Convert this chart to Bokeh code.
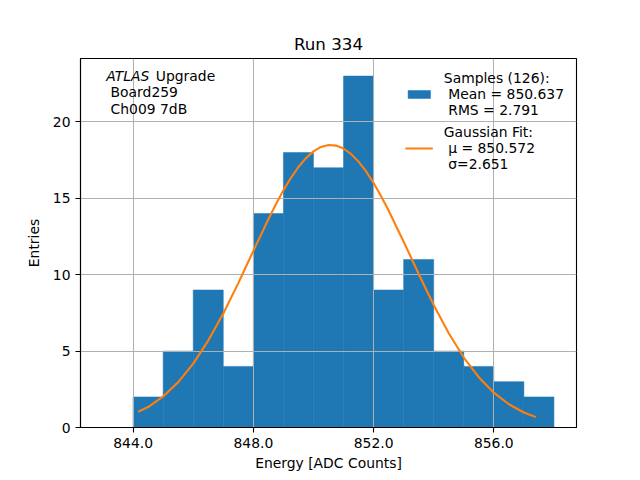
from bokeh.plotting import figure
from bokeh.models import (Range1d, FixedTicker, PrintfTickFormatter, Label,
                          Legend, LegendItem, ColumnDataSource)
from bokeh.embed import file_html
from bokeh.resources import INLINE

# ---- data ----
bin_edges = [843, 844, 845, 846, 847, 848, 849, 850, 851, 852, 853, 854, 855, 856, 857, 858]
counts = [0, 2, 5, 9, 4, 14, 18, 17, 23, 9, 11, 5, 4, 3, 2]

gauss_x = [844.17, 844.5, 845.0, 845.5, 846.0, 846.5, 847.0, 847.5, 847.75, 848.0,
           848.5, 848.75, 849.0, 849.25, 849.5, 849.75, 850.0, 850.25, 850.5, 850.75,
           851.0, 851.25, 851.5, 851.75, 852.0, 852.25, 852.5, 853.0, 853.25, 853.5,
           854.0, 854.5, 855.0, 855.5, 856.0, 856.5, 857.0, 857.4]
gauss_y = [1.03, 1.34, 2.03, 2.97, 4.18, 5.69, 7.46, 9.45, 10.50, 11.56,
           13.63, 14.61, 15.52, 16.34, 17.05, 17.63, 18.07, 18.36, 18.49, 18.45,
           18.26, 17.90, 17.40, 16.76, 16.00, 15.14, 14.20, 12.16, 11.11, 10.05,
           8.02, 6.17, 4.58, 3.29, 2.28, 1.52, 0.98, 0.68]

x_ticks = [844, 848, 852, 856]
y_ticks = [0, 5, 10, 15, 20]

title_text = "Run 334"
x_label = "Energy [ADC Counts]"
y_label = "Entries"
hist_label = "Samples (126):\n Mean = 850.637\n RMS = 2.791"
fit_label = "Gaussian Fit:\n \u03bc = 850.572\n \u03c3=2.651"

FS = "13.9px"
BLUE = "#1f77b4"
ORANGE = "#ff7f0e"

p = figure(width=640, height=480, output_backend="svg", toolbar_location=None,
           x_range=Range1d(842.25, 858.75), y_range=Range1d(0, 24.15),
           min_border_left=80, min_border_right=64, min_border_top=58,
           min_border_bottom=53, title=title_text)

p.title.align = "center"
p.title.text_font = "DejaVu Sans"
p.title.text_font_size = "16.7px"
p.title.text_font_style = "normal"
p.title.text_color = "black"

hist_src = ColumnDataSource(dict(left=bin_edges[:-1], right=bin_edges[1:],
                                 top=counts, bottom=[0] * len(counts)))
bars = p.quad(left="left", right="right", top="top", bottom="bottom",
              source=hist_src, fill_color=BLUE, line_color=BLUE, line_width=0.5,
              level="image")

fit = p.line(gauss_x, gauss_y, line_color=ORANGE, line_width=2.1)

# axes
for ax in (p.xaxis[0], p.yaxis[0]):
    ax.axis_line_color = "black"
    ax.axis_line_width = 1.1
    ax.major_tick_line_color = "black"
    ax.major_tick_line_width = 1.1
    ax.major_tick_out = 5
    ax.major_tick_in = 0
    ax.minor_tick_line_color = None
    ax.major_label_text_font = "DejaVu Sans"
    ax.major_label_text_font_size = FS
    ax.major_label_text_color = "black"
    ax.axis_label_text_font = "DejaVu Sans"
    ax.axis_label_text_font_size = FS
    ax.axis_label_text_font_style = "normal"
    ax.axis_label_text_color = "black"

p.xaxis.ticker = FixedTicker(ticks=x_ticks)
p.xaxis.formatter = PrintfTickFormatter(format="%.1f")
p.yaxis.ticker = FixedTicker(ticks=y_ticks)
p.xaxis.axis_label = x_label
p.yaxis.axis_label = y_label
p.xaxis.axis_label_standoff = 4
p.yaxis.axis_label_standoff = 8

p.outline_line_color = "black"
p.outline_line_width = 1.1

for g in (p.xgrid[0], p.ygrid[0]):
    g.grid_line_color = "#b0b0b0"
    g.grid_line_width = 1.0
    g.level = "underlay"
p.xgrid.ticker = FixedTicker(ticks=x_ticks)
p.ygrid.ticker = FixedTicker(ticks=y_ticks)

# text box upper left
common = dict(text_font="DejaVu Sans", text_font_size=FS, text_color="black",
              text_baseline="top")
line_step = 16.7 / 15.31
p.add_layout(Label(x=843.105, y=23.56, text="ATLAS", text_font_style="italic", **common))
p.add_layout(Label(x=844.755, y=23.56, text="Upgrade", **common))
p.add_layout(Label(x=843.25, y=23.56 - line_step, text="Board259", **common))
p.add_layout(Label(x=843.25, y=23.56 - 2 * line_step, text="Ch009 7dB", **common))

legend = Legend(items=[LegendItem(label=hist_label, renderers=[bars]),
                       LegendItem(label=fit_label, renderers=[fit])],
                location="top_right")
legend.margin = 7
legend.padding = 5
legend.spacing = 6
legend.glyph_width = 28
legend.glyph_height = 10
legend.label_standoff = 11
legend.label_text_font = "DejaVu Sans"
legend.label_text_font_size = FS
legend.label_text_color = "black"
legend.background_fill_alpha = 0
legend.border_line_alpha = 0
p.add_layout(legend)

open("out.html", "w").write(file_html(p, INLINE))
